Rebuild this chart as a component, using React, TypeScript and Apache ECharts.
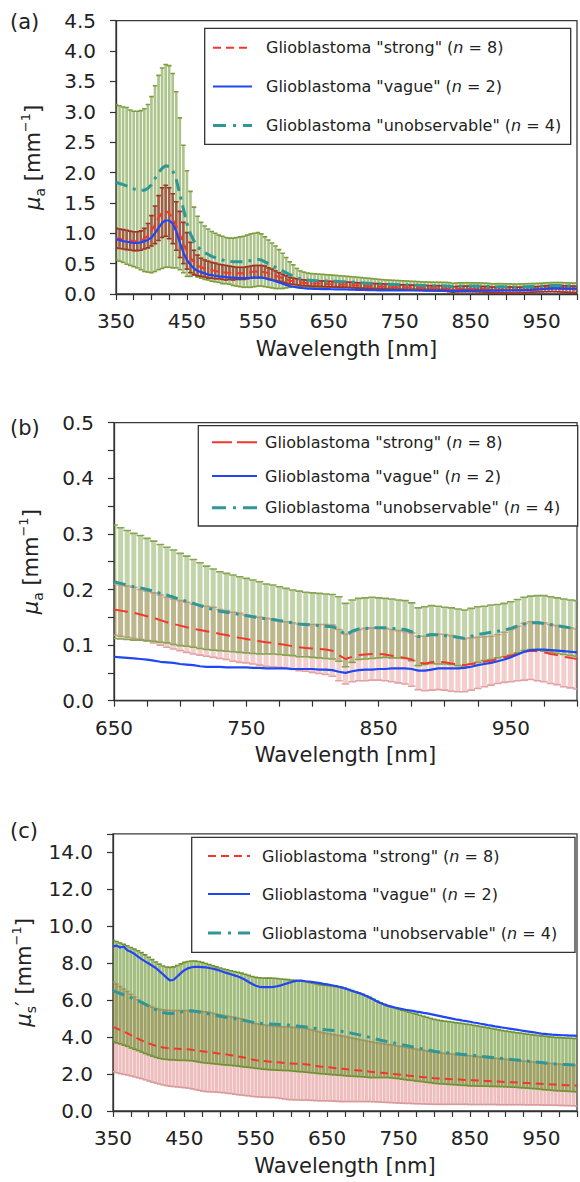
import React, { useEffect, useRef } from "react";
import * as echarts from "echarts";

const FONT = "DejaVu Sans";

// Wavelength grid (nm)
const WAVELENGTH = [
  350, 355, 360, 365, 370, 375, 380, 385, 390, 395,
  400, 405, 410, 415, 420, 425, 430, 435, 440, 445,
  450, 455, 460, 465, 470, 475, 480, 485, 490, 495,
  500, 505, 510, 515, 520, 525, 530, 535, 540, 545,
  550, 555, 560, 565, 570, 575, 580, 585, 590, 595,
  600, 605, 610, 615, 620, 625, 630, 635, 640, 645,
  650, 655, 660, 665, 670, 675, 680, 685, 690, 695,
  700, 705, 710, 715, 720, 725, 730, 735, 740, 745,
  750, 755, 760, 765, 770, 775, 780, 785, 790, 795,
  800, 805, 810, 815, 820, 825, 830, 835, 840, 845,
  850, 855, 860, 865, 870, 875, 880, 885, 890, 895,
  900, 905, 910, 915, 920, 925, 930, 935, 940, 945,
  950, 955, 960, 965, 970, 975, 980, 985, 990, 995,
  1000,
];

// ---- absorption coefficient mu_a [mm^-1] ----
const MUA_STRONG = [
  0.92, 0.91, 0.90, 0.89, 0.88, 0.87, 0.87, 0.88, 0.91, 0.96,
  1.04, 1.14, 1.25, 1.34, 1.37, 1.33, 1.24, 1.12, 0.98, 0.84,
  0.71, 0.60, 0.52, 0.47, 0.44, 0.42, 0.40, 0.39, 0.38, 0.37,
  0.36, 0.35, 0.35, 0.34, 0.34, 0.34, 0.34, 0.35, 0.36, 0.37,
  0.37, 0.37, 0.36, 0.34, 0.32, 0.30, 0.28, 0.26, 0.24, 0.22,
  0.21, 0.20, 0.19, 0.185, 0.18, 0.176, 0.173, 0.171, 0.169, 0.167,
  0.164, 0.162, 0.160, 0.158, 0.155, 0.152, 0.149, 0.145, 0.141, 0.138,
  0.135, 0.132, 0.129, 0.127, 0.125, 0.123, 0.120, 0.118, 0.115, 0.113,
  0.111, 0.109, 0.107, 0.105, 0.104, 0.102, 0.100, 0.098, 0.096, 0.095,
  0.094, 0.093, 0.092, 0.090, 0.082, 0.075, 0.079, 0.082, 0.083, 0.084,
  0.084, 0.083, 0.081, 0.079, 0.077, 0.074, 0.068, 0.067, 0.069, 0.070,
  0.069, 0.067, 0.065, 0.064, 0.066, 0.068, 0.070, 0.072, 0.075, 0.078,
  0.081, 0.085, 0.088, 0.090, 0.089, 0.087, 0.084, 0.082, 0.079, 0.077,
  0.075,
];
const MUA_STRONG_SD = [
  0.16, 0.16, 0.16, 0.16, 0.155, 0.155, 0.155, 0.16, 0.17, 0.20,
  0.25, 0.31, 0.37, 0.41, 0.42, 0.42, 0.41, 0.40, 0.38, 0.34,
  0.30, 0.25, 0.20, 0.17, 0.15, 0.14, 0.14, 0.13, 0.13, 0.12,
  0.12, 0.12, 0.11, 0.11, 0.10, 0.10, 0.10, 0.10, 0.10, 0.10,
  0.10, 0.10, 0.10, 0.09, 0.09, 0.08, 0.07, 0.065, 0.06, 0.055,
  0.052, 0.050, 0.049, 0.048, 0.048, 0.047, 0.047, 0.047, 0.046, 0.046,
  0.046, 0.046, 0.046, 0.046, 0.045, 0.045, 0.045, 0.045, 0.045, 0.045,
  0.045, 0.045, 0.045, 0.045, 0.045, 0.045, 0.044, 0.044, 0.044, 0.044,
  0.043, 0.043, 0.043, 0.043, 0.043, 0.042, 0.042, 0.042, 0.042, 0.042,
  0.043, 0.044, 0.045, 0.046, 0.046, 0.045, 0.045, 0.046, 0.047, 0.047,
  0.047, 0.047, 0.047, 0.047, 0.047, 0.048, 0.048, 0.049, 0.050, 0.050,
  0.050, 0.050, 0.049, 0.048, 0.047, 0.046, 0.045, 0.044, 0.044, 0.045,
  0.047, 0.049, 0.051, 0.052, 0.053, 0.053, 0.053, 0.053, 0.054, 0.054,
  0.054,
];
const MUA_VAGUE = [
  0.90, 0.89, 0.87, 0.86, 0.85, 0.84, 0.84, 0.85, 0.87, 0.89,
  0.93, 1.00, 1.09, 1.17, 1.21, 1.21, 1.16, 1.03, 0.85, 0.68,
  0.56, 0.48, 0.42, 0.38, 0.36, 0.34, 0.32, 0.31, 0.30, 0.29,
  0.285, 0.28, 0.27, 0.27, 0.265, 0.26, 0.26, 0.26, 0.265, 0.27,
  0.27, 0.27, 0.26, 0.24, 0.23, 0.21, 0.19, 0.17, 0.15, 0.13,
  0.12, 0.11, 0.10, 0.095, 0.090, 0.087, 0.084, 0.082, 0.080, 0.079,
  0.079, 0.078, 0.077, 0.076, 0.075, 0.074, 0.072, 0.070, 0.069, 0.068,
  0.066, 0.065, 0.064, 0.062, 0.061, 0.061, 0.061, 0.060, 0.060, 0.060,
  0.060, 0.059, 0.059, 0.058, 0.058, 0.058, 0.058, 0.057, 0.057, 0.057,
  0.057, 0.056, 0.056, 0.055, 0.052, 0.050, 0.053, 0.055, 0.056, 0.056,
  0.057, 0.057, 0.058, 0.058, 0.058, 0.057, 0.054, 0.054, 0.056, 0.058,
  0.058, 0.058, 0.058, 0.059, 0.061, 0.064, 0.066, 0.068, 0.071, 0.074,
  0.078, 0.083, 0.088, 0.091, 0.092, 0.092, 0.091, 0.090, 0.089, 0.088,
  0.087,
];
const MUA_UNOBS = [
  1.84, 1.82, 1.80, 1.78, 1.75, 1.73, 1.72, 1.71, 1.71, 1.74,
  1.80, 1.90, 2.00, 2.07, 2.11, 2.10, 2.03, 1.88, 1.65, 1.40,
  1.16, 0.99, 0.87, 0.78, 0.72, 0.68, 0.65, 0.62, 0.60, 0.58,
  0.56, 0.55, 0.54, 0.53, 0.53, 0.53, 0.53, 0.54, 0.55, 0.56,
  0.57, 0.56, 0.53, 0.50, 0.47, 0.44, 0.41, 0.38, 0.35, 0.32,
  0.30, 0.27, 0.25, 0.24, 0.23, 0.225, 0.222, 0.220, 0.218, 0.216,
  0.214, 0.211, 0.208, 0.205, 0.203, 0.200, 0.197, 0.193, 0.190, 0.186,
  0.182, 0.179, 0.175, 0.171, 0.167, 0.164, 0.161, 0.159, 0.157, 0.155,
  0.153, 0.151, 0.149, 0.147, 0.146, 0.144, 0.142, 0.140, 0.138, 0.137,
  0.136, 0.135, 0.134, 0.133, 0.129, 0.118, 0.125, 0.129, 0.130, 0.131,
  0.131, 0.131, 0.130, 0.129, 0.128, 0.124, 0.115, 0.117, 0.119, 0.118,
  0.117, 0.116, 0.114, 0.112, 0.116, 0.119, 0.121, 0.123, 0.125, 0.127,
  0.130, 0.134, 0.138, 0.140, 0.140, 0.139, 0.137, 0.135, 0.133, 0.131,
  0.130,
];
const MUA_UNOBS_SD = [
  1.28, 1.28, 1.28, 1.29, 1.28, 1.28, 1.29, 1.31, 1.34, 1.38,
  1.45, 1.53, 1.60, 1.65, 1.67, 1.66, 1.60, 1.45, 1.25, 1.05,
  0.87, 0.70, 0.56, 0.50, 0.46, 0.44, 0.42, 0.41, 0.40, 0.39,
  0.39, 0.38, 0.38, 0.39, 0.40, 0.41, 0.42, 0.43, 0.44, 0.44,
  0.44, 0.43, 0.41, 0.39, 0.37, 0.35, 0.32, 0.29, 0.25, 0.21,
  0.18, 0.15, 0.13, 0.12, 0.115, 0.112, 0.110, 0.108, 0.106, 0.104,
  0.102, 0.100, 0.098, 0.096, 0.094, 0.092, 0.090, 0.088, 0.086, 0.085,
  0.083, 0.081, 0.079, 0.077, 0.075, 0.073, 0.071, 0.070, 0.069, 0.068,
  0.067, 0.066, 0.065, 0.063, 0.062, 0.061, 0.060, 0.059, 0.059, 0.058,
  0.058, 0.058, 0.058, 0.058, 0.058, 0.057, 0.056, 0.055, 0.055, 0.055,
  0.054, 0.053, 0.053, 0.052, 0.052, 0.052, 0.052, 0.052, 0.052, 0.052,
  0.051, 0.051, 0.051, 0.051, 0.050, 0.050, 0.049, 0.049, 0.048, 0.048,
  0.048, 0.048, 0.048, 0.048, 0.049, 0.050, 0.050, 0.050, 0.050, 0.050,
  0.050,
];

// ---- reduced scattering coefficient mu_s' [mm^-1] ----
const MUS_STRONG = [
  4.55, 4.47, 4.38, 4.29, 4.21, 4.11, 4.01, 3.91, 3.82, 3.74,
  3.66, 3.59, 3.53, 3.48, 3.44, 3.41, 3.39, 3.38, 3.37, 3.36,
  3.35, 3.34, 3.32, 3.29, 3.26, 3.23, 3.21, 3.19, 3.16, 3.13,
  3.10, 3.08, 3.05, 3.02, 2.99, 2.95, 2.92, 2.88, 2.84, 2.79,
  2.75, 2.73, 2.71, 2.69, 2.67, 2.66, 2.64, 2.62, 2.60, 2.58,
  2.57, 2.56, 2.55, 2.54, 2.53, 2.50, 2.47, 2.44, 2.41, 2.39,
  2.37, 2.35, 2.33, 2.31, 2.29, 2.27, 2.25, 2.23, 2.21, 2.19,
  2.17, 2.15, 2.13, 2.11, 2.09, 2.07, 2.05, 2.03, 2.01, 1.99,
  1.97, 1.95, 1.93, 1.91, 1.89, 1.87, 1.85, 1.83, 1.81, 1.79,
  1.77, 1.76, 1.75, 1.74, 1.73, 1.72, 1.71, 1.70, 1.69, 1.68,
  1.67, 1.66, 1.65, 1.64, 1.63, 1.62, 1.61, 1.60, 1.59, 1.58,
  1.57, 1.56, 1.55, 1.54, 1.53, 1.52, 1.51, 1.50, 1.49, 1.48,
  1.47, 1.46, 1.45, 1.44, 1.43, 1.42, 1.41, 1.40, 1.39, 1.38,
  1.37,
];
const MUS_STRONG_SD = [
  2.43, 2.40, 2.36, 2.31, 2.26, 2.21, 2.16, 2.11, 2.07, 2.05,
  2.04, 2.03, 2.02, 2.02, 2.03, 2.04, 2.05, 2.06, 2.07, 2.08,
  2.09, 2.10, 2.12, 2.13, 2.14, 2.15, 2.16, 2.15, 2.13, 2.11,
  2.10, 2.09, 2.09, 2.08, 2.08, 2.07, 2.06, 2.04, 2.02, 2.00,
  1.98, 1.97, 1.96, 1.95, 1.94, 1.93, 1.93, 1.94, 1.95, 1.96,
  1.96, 1.96, 1.95, 1.95, 1.94, 1.92, 1.90, 1.88, 1.86, 1.84,
  1.82, 1.81, 1.80, 1.79, 1.78, 1.76, 1.74, 1.72, 1.70, 1.68,
  1.66, 1.64, 1.62, 1.61, 1.60, 1.59, 1.58, 1.57, 1.56, 1.55,
  1.54, 1.53, 1.52, 1.50, 1.49, 1.48, 1.46, 1.45, 1.44, 1.42,
  1.41, 1.40, 1.39, 1.38, 1.37, 1.36, 1.35, 1.34, 1.33, 1.32,
  1.32, 1.31, 1.30, 1.29, 1.28, 1.27, 1.26, 1.25, 1.25, 1.24,
  1.23, 1.22, 1.21, 1.20, 1.19, 1.18, 1.18, 1.17, 1.16, 1.15,
  1.15, 1.14, 1.13, 1.13, 1.12, 1.12, 1.11, 1.11, 1.10, 1.10,
  1.10,
];
const MUS_VAGUE = [
  8.90, 8.95, 8.85, 8.90, 8.70, 8.62, 8.50, 8.35, 8.22, 8.10,
  7.98, 7.86, 7.74, 7.57, 7.40, 7.22, 7.06, 7.10, 7.28, 7.46,
  7.62, 7.72, 7.78, 7.80, 7.80, 7.79, 7.77, 7.74, 7.70, 7.65,
  7.59, 7.52, 7.46, 7.40, 7.34, 7.28, 7.20, 7.10, 6.98, 6.87,
  6.78, 6.72, 6.70, 6.70, 6.70, 6.72, 6.75, 6.80, 6.86, 6.92,
  6.98, 7.03, 7.06, 7.05, 7.02, 7.00, 6.98, 6.95, 6.92, 6.88,
  6.85, 6.82, 6.78, 6.74, 6.69, 6.63, 6.56, 6.50, 6.44, 6.38,
  6.30, 6.22, 6.13, 6.03, 5.93, 5.84, 5.76, 5.70, 5.65, 5.60,
  5.56, 5.52, 5.48, 5.45, 5.42, 5.38, 5.35, 5.31, 5.28, 5.24,
  5.20, 5.16, 5.12, 5.08, 5.04, 5.00, 4.96, 4.93, 4.89, 4.86,
  4.83, 4.79, 4.76, 4.72, 4.69, 4.65, 4.62, 4.58, 4.55, 4.52,
  4.49, 4.46, 4.43, 4.40, 4.37, 4.34, 4.31, 4.28, 4.25, 4.22,
  4.19, 4.17, 4.15, 4.13, 4.12, 4.11, 4.10, 4.09, 4.08, 4.08,
  4.07,
];
const MUS_UNOBS = [
  6.50, 6.43, 6.36, 6.29, 6.22, 6.13, 6.05, 5.97, 5.88, 5.78,
  5.68, 5.58, 5.48, 5.40, 5.33, 5.29, 5.27, 5.28, 5.31, 5.35,
  5.39, 5.41, 5.42, 5.40, 5.37, 5.33, 5.29, 5.25, 5.21, 5.17,
  5.13, 5.09, 5.06, 5.03, 5.00, 4.97, 4.93, 4.89, 4.85, 4.81,
  4.77, 4.75, 4.73, 4.72, 4.71, 4.70, 4.69, 4.67, 4.66, 4.65,
  4.63, 4.61, 4.59, 4.57, 4.55, 4.52, 4.49, 4.46, 4.43, 4.41,
  4.39, 4.37, 4.35, 4.33, 4.31, 4.28, 4.24, 4.20, 4.16, 4.12,
  4.08, 4.03, 3.98, 3.93, 3.88, 3.83, 3.79, 3.75, 3.71, 3.67,
  3.63, 3.59, 3.55, 3.51, 3.47, 3.43, 3.39, 3.35, 3.31, 3.27,
  3.23, 3.20, 3.18, 3.16, 3.14, 3.12, 3.10, 3.08, 3.06, 3.04,
  3.02, 3.00, 2.98, 2.96, 2.94, 2.92, 2.90, 2.88, 2.86, 2.84,
  2.82, 2.80, 2.78, 2.76, 2.74, 2.72, 2.70, 2.68, 2.66, 2.64,
  2.62, 2.60, 2.58, 2.56, 2.54, 2.53, 2.52, 2.51, 2.50, 2.49,
  2.48,
];
const MUS_UNOBS_SD = [
  2.74, 2.74, 2.73, 2.73, 2.72, 2.72, 2.71, 2.70, 2.69, 2.67,
  2.64, 2.61, 2.58, 2.55, 2.52, 2.50, 2.50, 2.52, 2.56, 2.61,
  2.65, 2.68, 2.70, 2.71, 2.72, 2.71, 2.69, 2.67, 2.65, 2.63,
  2.61, 2.59, 2.58, 2.56, 2.55, 2.54, 2.53, 2.51, 2.49, 2.47,
  2.46, 2.46, 2.47, 2.47, 2.48, 2.48, 2.48, 2.47, 2.47, 2.46,
  2.46, 2.46, 2.46, 2.45, 2.45, 2.44, 2.43, 2.42, 2.41, 2.40,
  2.40, 2.40, 2.39, 2.39, 2.38, 2.37, 2.35, 2.32, 2.29, 2.26,
  2.23, 2.20, 2.17, 2.12, 2.07, 2.02, 1.98, 1.94, 1.92, 1.90,
  1.88, 1.87, 1.86, 1.84, 1.82, 1.81, 1.79, 1.77, 1.76, 1.74,
  1.73, 1.72, 1.71, 1.70, 1.70, 1.69, 1.68, 1.68, 1.67, 1.66,
  1.66, 1.64, 1.63, 1.61, 1.60, 1.58, 1.57, 1.55, 1.54, 1.52,
  1.51, 1.50, 1.49, 1.48, 1.48, 1.47, 1.46, 1.46, 1.45, 1.45,
  1.45, 1.45, 1.44, 1.44, 1.44, 1.44, 1.44, 1.44, 1.44, 1.44,
  1.44,
];

const LEGEND_LABELS = [
  'Glioblastoma "strong" ({i|n} = 8)',
  'Glioblastoma "vague" ({i|n} = 2)',
  'Glioblastoma "unobservable" ({i|n} = 4)',
];
const X_TICKS_A = [350, 450, 550, 650, 750, 850, 950];
const X_TICKS_B = [650, 750, 850, 950];

const RED = "#f2372c";
const BLUE = "#1f47f2";
const TEAL = "#2f9797";

type PanelStyle = {
  greenFill: string;
  greenCap: string;
  redFill: string;
  redCap: string;
  redOnTop: boolean;
  gap: number;
  redDash: number[];
};

function errorBars(
  idx: number,
  mean: number[],
  sd: number[],
  xmin: number,
  fill: string,
  cap: string,
  gap: number,
  z: number
) {
  const data = WAVELENGTH.map((w, i) => [w, mean[i], sd[i]]).filter(
    (d) => d[0] >= xmin
  );
  return {
    type: "custom",
    xAxisIndex: idx,
    yAxisIndex: idx,
    silent: true,
    clip: true,
    z,
    data,
    encode: { x: 0, y: 1 },
    renderItem: (_params: any, api: any) => {
      const x = api.value(0);
      const m = api.value(1);
      const s = api.value(2);
      const top = api.coord([x, m + s]);
      const bot = api.coord([x, m - s]);
      const step = api.size([5, 0])[0];
      const w = Math.max(1, step - gap);
      const cw = step + 1;
      return {
        type: "group",
        children: [
          {
            type: "rect",
            shape: { x: top[0] - w / 2, y: top[1], width: w, height: bot[1] - top[1] },
            style: { fill },
          },
          {
            type: "line",
            shape: { x1: top[0] - cw / 2, y1: top[1], x2: top[0] + cw / 2, y2: top[1] },
            style: { stroke: cap, lineWidth: 1.6 },
          },
          {
            type: "line",
            shape: { x1: bot[0] - cw / 2, y1: bot[1], x2: bot[0] + cw / 2, y2: bot[1] },
            style: { stroke: cap, lineWidth: 1.6 },
          },
        ],
      };
    },
  };
}

function meanLine(idx: number, arr: number[], xmin: number, color: string, width: number, dash: any, z: number) {
  return {
    type: "line",
    xAxisIndex: idx,
    yAxisIndex: idx,
    silent: true,
    symbol: "none",
    showSymbol: false,
    z,
    data: WAVELENGTH.map((w, i) => [w, arr[i]]).filter((d) => d[0] >= xmin),
    lineStyle: { color, width, type: dash },
  };
}

function legendGraphic(
  box: { x: number; y: number; w: number; h: number },
  rows: number[],
  sx1: number,
  sx2: number,
  tx: number,
  redDash: number[],
  tealDash: number[]
) {
  const styles = [
    { color: RED, width: 2, dash: redDash },
    { color: BLUE, width: 2.2, dash: null },
    { color: TEAL, width: 3, dash: tealDash },
  ];
  const children: any[] = [
    {
      type: "rect",
      shape: { x: box.x, y: box.y, width: box.w, height: box.h },
      style: { fill: "#ffffff", stroke: "#333333", lineWidth: 1.3 },
    },
  ];
  rows.forEach((ry, i) => {
    const st = styles[i];
    children.push({
      type: "line",
      shape: { x1: sx1, y1: ry, x2: sx2, y2: ry },
      style: { stroke: st.color, lineWidth: st.width, lineDash: st.dash || undefined },
    });
    children.push({
      type: "text",
      x: tx,
      y: ry,
      style: {
        text: LEGEND_LABELS[i],
        fontSize: 16,
        fontFamily: FONT,
        fill: "#222222",
        align: "left",
        verticalAlign: "middle",
        rich: { i: { fontStyle: "italic", fontSize: 16, fontFamily: FONT, fill: "#222222" } },
      },
    });
  });
  return { type: "group", z: 100, children };
}

function buildOption() {
  const panels = [
    {
      grid: { left: 116, top: 20.7, width: 463, height: 273.3 },
      xmin: 350,
      ymax: 4.5,
      yint: 0.5,
      minor: false,
      ticksLabel: X_TICKS_A,
      strong: MUA_STRONG,
      strongSd: MUA_STRONG_SD,
      vague: MUA_VAGUE,
      unobs: MUA_UNOBS,
      unobsSd: MUA_UNOBS_SD,
      yname: "{mu|μ}{sub|a} [mm{sup|−1}]",
      style: {
        greenFill: "rgba(105,148,45,0.55)",
        greenCap: "#7d9e3c",
        redFill: "rgba(150,28,22,0.6)",
        redCap: "#a23226",
        redOnTop: true,
        gap: 0.9,
        redDash: [8, 5],
      } as PanelStyle,
    },
    {
      grid: { left: 114, top: 422.7, width: 468, height: 278 },
      xmin: 650,
      ymax: 0.5,
      yint: 0.1,
      minor: true,
      ticksLabel: X_TICKS_B,
      strong: MUA_STRONG,
      strongSd: MUA_STRONG_SD,
      vague: MUA_VAGUE,
      unobs: MUA_UNOBS,
      unobsSd: MUA_UNOBS_SD,
      yname: "{mu|μ}{sub|a} [mm{sup|−1}]",
      style: {
        greenFill: "rgba(110,152,52,0.42)",
        greenCap: "#86a452",
        redFill: "rgba(222,100,100,0.32)",
        redCap: "#e2a2a2",
        redOnTop: false,
        gap: 1.6,
        redDash: [14, 7],
      } as PanelStyle,
    },
    {
      grid: { left: 113, top: 833.8, width: 468.6, height: 277.2 },
      xmin: 350,
      ymax: 15,
      yint: 2,
      minor: false,
      ticksLabel: X_TICKS_A,
      strong: MUS_STRONG,
      strongSd: MUS_STRONG_SD,
      vague: MUS_VAGUE,
      unobs: MUS_UNOBS,
      unobsSd: MUS_UNOBS_SD,
      yname: "{mu|μ}{sub|s}′ [mm{sup|−1}]",
      style: {
        greenFill: "rgba(102,145,42,0.6)",
        greenCap: "#6f9232",
        redFill: "rgba(215,100,100,0.42)",
        redCap: "#d99a9a",
        redOnTop: false,
        gap: 0.5,
        redDash: [8, 5],
      } as PanelStyle,
    },
  ];

  const grid: any[] = [];
  const xAxis: any[] = [];
  const yAxis: any[] = [];
  const series: any[] = [];

  panels.forEach((p, idx) => {
    grid.push({
      ...p.grid,
      show: true,
      borderColor: "#3a3a3a",
      borderWidth: 1.3,
      backgroundColor: "transparent",
    });
    const labelSet = p.ticksLabel;
    xAxis.push({
      gridIndex: idx,
      type: "value",
      min: p.xmin,
      max: 1000,
      interval: 25,
      axisLine: { show: true, onZero: false, lineStyle: { color: "#333", width: 1.3 } },
      axisTick: { show: true, inside: false, length: 6, lineStyle: { color: "#333", width: 1.2 } },
      axisLabel: {
        formatter: (v: number) => (labelSet.indexOf(Math.round(v)) >= 0 ? String(Math.round(v)) : ""),
        fontSize: 20,
        fontFamily: FONT,
        color: "#222",
        margin: 17,
      },
      splitLine: { show: false },
      name: "Wavelength [nm]",
      nameLocation: "middle",
      nameGap: 44,
      nameTextStyle: { fontSize: 21, fontFamily: FONT, color: "#222" },
    });
    yAxis.push({
      gridIndex: idx,
      type: "value",
      min: 0,
      max: p.ymax,
      interval: p.yint,
      axisLine: { show: true, onZero: false, lineStyle: { color: "#333", width: 1.3 } },
      axisTick: { show: true, inside: false, length: 6, lineStyle: { color: "#333", width: 1.2 } },
      minorTick: p.minor
        ? { show: true, splitNumber: 2, length: 6, lineStyle: { color: "#333", width: 1.2 } }
        : { show: false },
      axisLabel: {
        formatter: (v: number) => (p.ymax === 15 && v > 14.5 ? "" : v.toFixed(1)),
        fontSize: 20,
        fontFamily: FONT,
        color: "#222",
        margin: 20,
      },
      splitLine: { show: false },
      name: p.yname,
      nameLocation: "middle",
      nameRotate: 90,
      nameGap: 69,
      nameTextStyle: {
        fontSize: 21,
        fontFamily: FONT,
        color: "#222",
        lineHeight: 28,
        rich: {
          mu: { fontStyle: "italic", fontSize: 21, fontFamily: FONT, color: "#222", lineHeight: 28 },
          sub: { fontSize: 14, fontFamily: FONT, color: "#222", lineHeight: 14, verticalAlign: "bottom" },
          sup: { fontSize: 13, fontFamily: FONT, color: "#222", lineHeight: 14, verticalAlign: "top" },
        },
      },
    });

    const st = p.style;
    const green = errorBars(idx, p.unobs, p.unobsSd, p.xmin, st.greenFill, st.greenCap, st.gap, st.redOnTop ? 1 : 2);
    const red = errorBars(idx, p.strong, p.strongSd, p.xmin, st.redFill, st.redCap, st.gap, st.redOnTop ? 2 : 1);
    if (st.redOnTop) {
      series.push(green, red);
    } else {
      series.push(red, green);
    }
    series.push(meanLine(idx, p.unobs, p.xmin, TEAL, 3, [12, 6, 3, 6], 5));
    series.push(meanLine(idx, p.strong, p.xmin, RED, 2, st.redDash, 6));
    series.push(meanLine(idx, p.vague, p.xmin, BLUE, 2.2, "solid", 7));
  });

  const panelLabel = (t: string, y: number) => ({
    type: "text",
    x: 10,
    y,
    z: 100,
    style: { text: t, fontSize: 21, fontFamily: FONT, fill: "#222", align: "left", verticalAlign: "middle" },
  });

  const graphic = [
    panelLabel("(a)", 21.5),
    panelLabel("(b)", 428),
    panelLabel("(c)", 831),
    legendGraphic({ x: 204.7, y: 28.3, w: 366, h: 116 }, [47.7, 86.5, 125.5], 213, 252, 266, [8, 5], [13, 7, 3, 7]),
    legendGraphic({ x: 198.3, y: 425.7, w: 379.4, h: 100.3 }, [442.3, 476, 507.7], 212, 257, 265, [20, 5], [14, 7, 3, 7]),
    legendGraphic({ x: 191.7, y: 837.3, w: 383.3, h: 115 }, [856, 894, 933], 208, 250, 262, [8, 5], [13, 7, 3, 7]),
  ];

  return {
    animation: false,
    backgroundColor: "#ffffff",
    grid,
    xAxis,
    yAxis,
    series,
    graphic,
  };
}

export default function App() {
  const ref = useRef<HTMLDivElement | null>(null);
  useEffect(() => {
    if (!ref.current) return;
    const chart = echarts.init(ref.current, null, { renderer: "svg" });
    chart.setOption(buildOption() as any);
    return () => {
      chart.dispose();
    };
  }, []);
  return (
    <div
      ref={ref}
      style={{ position: "absolute", left: 0, top: 0, width: 580, height: 1182, background: "#fff" }}
    />
  );
}
